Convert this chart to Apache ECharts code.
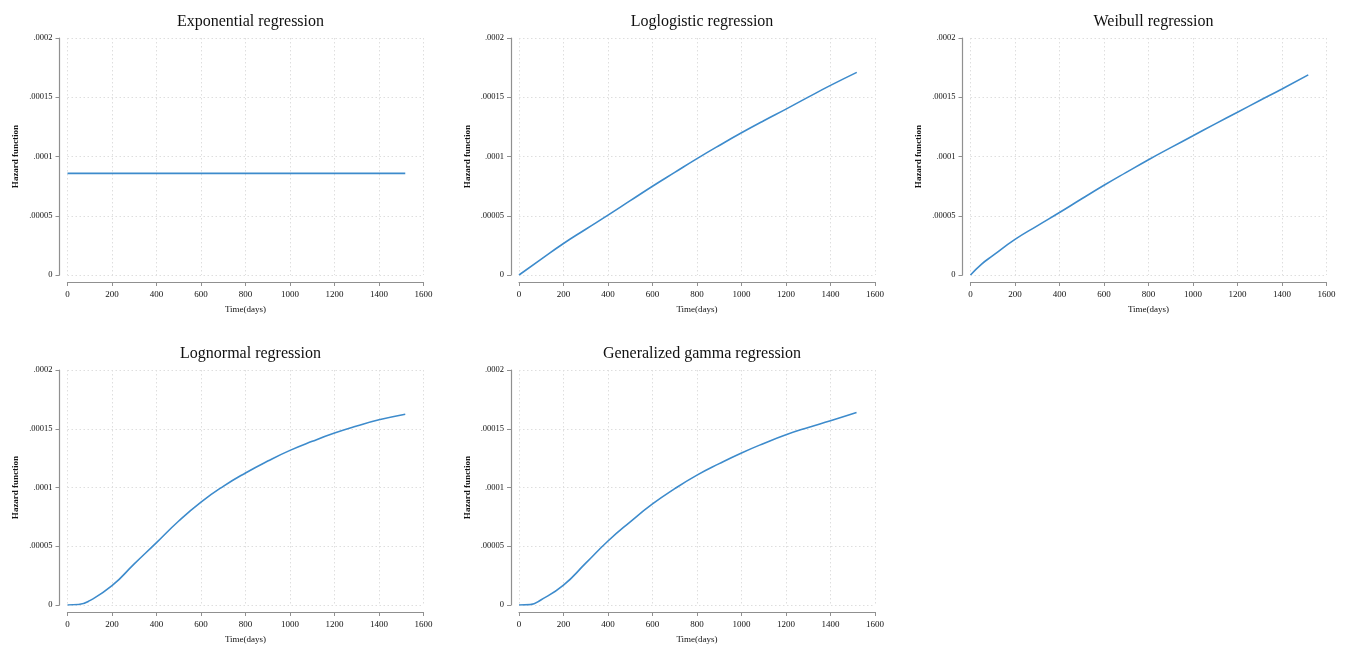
<!DOCTYPE html>
<html>
<head>
<meta charset="utf-8">
<script src="https://cdn.jsdelivr.net/npm/echarts@6/dist/echarts.min.js"></script>
<style>
html,body{margin:0;padding:0;background:#fff;}
#c{width:1345px;height:645px;}
</style>
</head>
<body>
<div id="c"></div>
<script>
// ---- data ----
var panelTitles = ['Exponential regression','Loglogistic regression','Weibull regression','Lognormal regression','Generalized gamma regression'];
var xTickLabels = ['0','200','400','600','800','1000','1200','1400','1600'];
var yTickLabels = ['0','.00005','.0001','.00015','.0002'];
var xAxisTitle = 'Time(days)';
var yAxisTitle = 'Hazard function';

var exponential = [[0,0.0000858],[1518,0.0000858]];
var loglogistic = [[0,0],[100,0.0000134],[200,0.0000266],[300,0.0000386],[400,0.0000505],[500,0.0000627],[600,0.0000749],[700,0.0000866],[800,0.0000982],[900,0.0001093],[1000,0.000120],[1100,0.0001302],[1200,0.000140],[1300,0.0001501],[1400,0.000160],[1518,0.000171]];
var weibull = [[0,0],[50,0.0000092],[100,0.0000163],[200,0.0000300],[300,0.0000415],[400,0.0000527],[500,0.0000643],[600,0.0000757],[700,0.0000866],[800,0.0000973],[900,0.0001075],[1000,0.0001175],[1100,0.0001275],[1200,0.0001374],[1300,0.0001472],[1400,0.000157],[1518,0.0001689]];
var lognormal = [[0,0],[50,0.0000004],[100,0.0000037],[200,0.0000164],[300,0.0000350],[400,0.0000531],[500,0.0000715],[600,0.0000876],[700,0.000101],[800,0.0001124],[900,0.0001225],[1000,0.0001316],[1100,0.0001393],[1200,0.0001463],[1300,0.0001523],[1400,0.0001576],[1518,0.0001624]];
var gengamma = [[0,0],[50,0.0000003],[100,0.0000045],[200,0.0000169],[300,0.0000356],[400,0.0000545],[500,0.0000708],[600,0.0000860],[700,0.0000990],[800,0.0001105],[900,0.0001203],[1000,0.0001294],[1100,0.0001375],[1200,0.0001449],[1300,0.0001511],[1400,0.0001568],[1517,0.0001638]];
var seriesData = [exponential, loglogistic, weibull, lognormal, gengamma];

// ---- layout ----
var lefts = [67.5, 519, 970.5, 67.5, 519];
var tops = [38, 38, 38, 370, 370];
var gw = 356, gh = 237;
var FONT = '"Liberation Serif","Times New Roman",serif';
var axisCol = '#909090';

var grids = [], xAxes = [], yAxes = [], series = [], titles = [];
for (var i = 0; i < 5; i++) {
  grids.push({left: lefts[i], top: tops[i], width: gw, height: gh, containLabel: false});
  titles.push({
    text: panelTitles[i], left: lefts[i] + gw / 2, top: tops[i] - 29, textAlign: 'center',
    textStyle: {fontFamily: FONT, fontSize: 16, fontWeight: 'normal', color: '#111'}
  });
  xAxes.push({
    type: 'value', gridIndex: i, min: 0, max: 1600, interval: 200, offset: 7,
    name: xAxisTitle, nameLocation: 'middle', nameGap: 23,
    nameTextStyle: {fontFamily: FONT, fontSize: 9, color: '#111'},
    axisLine: {show: true, onZero: false, lineStyle: {color: axisCol, width: 1.2}},
    axisTick: {show: true, length: 4, lineStyle: {color: axisCol}},
    axisLabel: {fontFamily: FONT, fontSize: 9, color: '#111', margin: 8,
      formatter: function (v) { return xTickLabels[Math.round(v / 200)]; }},
    splitLine: {show: true, lineStyle: {color: '#dedede', type: [1.5, 2.5], width: 1}}
  });
  yAxes.push({
    type: 'value', gridIndex: i, min: 0, max: 0.0002, interval: 0.00005, offset: 8,
    name: yAxisTitle, nameLocation: 'middle', nameGap: 39, nameRotate: 90,
    nameTextStyle: {fontFamily: FONT, fontSize: 9, color: '#111', fontWeight: 'bold'},
    axisLine: {show: true, onZero: false, lineStyle: {color: axisCol, width: 1.2}},
    axisTick: {show: true, length: 4, lineStyle: {color: axisCol}},
    axisLabel: {fontFamily: FONT, fontSize: 8.5, color: '#111', margin: 7,
      formatter: function (v) { return yTickLabels[Math.round(v / 0.00005)]; }},
    splitLine: {show: true, lineStyle: {color: '#dedede', type: [1.5, 2.5], width: 1}}
  });
  series.push({
    type: 'line', xAxisIndex: i, yAxisIndex: i, data: seriesData[i],
    smooth: 0.5, showSymbol: false, symbol: 'none',
    lineStyle: {color: '#3d8bcc', width: 1.6}, animation: false
  });
}

var chart = echarts.init(document.getElementById('c'), null, {renderer: 'canvas'});
chart.setOption({
  backgroundColor: '#fff',
  animation: false,
  title: titles,
  grid: grids,
  xAxis: xAxes,
  yAxis: yAxes,
  series: series
});
</script>
</body>
</html>
